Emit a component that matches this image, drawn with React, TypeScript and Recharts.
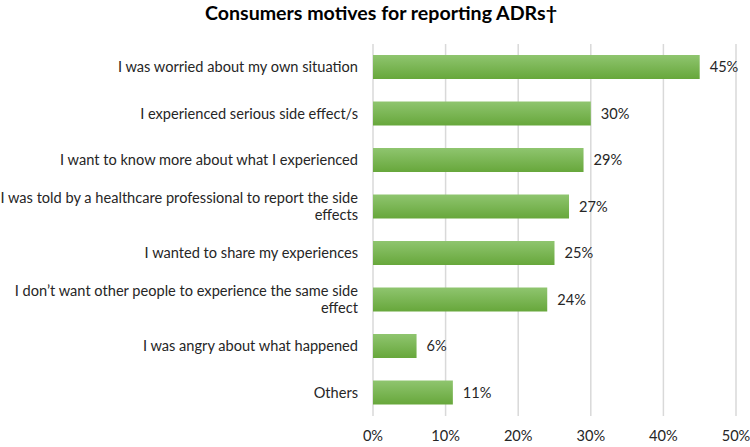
import React from 'react';
import { BarChart, Bar, XAxis, YAxis, CartesianGrid, LabelList } from 'recharts';

const motives = [
  'I was worried about my own situation',
  'I experienced serious side effect/s',
  'I want to know more about what I experienced',
  'I was told by a healthcare professional to report the side effects',
  'I wanted to share my experiences',
  'I don\u2019t want other people to experience the same side effect',
  'I was angry about what happened',
  'Others',
];
const shares = [45, 30, 29, 27, 25, 24, 6, 11];
const xTicks = [0, 10, 20, 30, 40, 50];

const data = motives.map((motive, i) => ({ motive, share: shares[i] }));

const FONT = 'Lato, "DejaVu Sans", sans-serif';
const TEXT = '#262626';

// crude wrap by character count, good enough for these labels
const wrap = (text: string, max = 58) => {
  const lines: string[] = [];
  let cur = '';
  text.split(' ').forEach(w => {
    const next = cur ? cur + ' ' + w : w;
    if (next.length > max && cur) {
      lines.push(cur);
      cur = w;
    } else {
      cur = next;
    }
  });
  if (cur) lines.push(cur);
  return lines;
};

const MotiveTick = ({ x, y, payload }: any) => {
  const lines = wrap(payload.value);
  const lh = 17;
  const start = -((lines.length - 1) * lh) / 2;
  return (
    <text x={x} y={y} textAnchor="end" fill={TEXT} fontSize={14.6} fontFamily={FONT}>
      {lines.map((l, i) => (
        <tspan key={i} x={x} y={y + start + i * lh} dy="0.35em">{l}</tspan>
      ))}
    </text>
  );
};

export default function App() {
  return (
    <div style={{ position: 'absolute', left: 0, top: 0, width: 750, height: 447, background: '#fff' }}>
      <div
        style={{
          position: 'absolute', left: 6, width: 750, top: 1, textAlign: 'center',
          fontFamily: FONT, fontWeight: 700, fontSize: 19.6, color: '#000',
        }}
      >
        Consumers motives for reporting ADRs†
      </div>
      <BarChart
        width={750}
        height={447}
        data={data}
        layout="vertical"
        margin={{ top: 44, right: 14, bottom: 1, left: 0 }}
      >
        <defs>
          <linearGradient id="barGreen" x1="0" y1="0" x2="0" y2="1">
            <stop offset="0%" stopColor="#8fc56f" />
            <stop offset="100%" stopColor="#67a73b" />
          </linearGradient>
        </defs>
        <CartesianGrid horizontal={false} stroke="#d9d9d9" strokeWidth={1.5} />
        <XAxis
          type="number"
          domain={[0, 50]}
          ticks={xTicks}
          tickFormatter={v => `${v}%`}
          axisLine={false}
          tickLine={false}
          tickMargin={9}
          height={30}
          interval={0}
          tick={{ fill: TEXT, fontSize: 14.6, fontFamily: FONT }}
        />
        <YAxis
          type="category"
          dataKey="motive"
          width={373}
          axisLine={false}
          tickLine={false}
          tickMargin={9}
          interval={0}
          tick={<MotiveTick />}
        />
        <Bar dataKey="share" fill="url(#barGreen)" barSize={24} isAnimationActive={false}>
          <LabelList
            dataKey="share"
            position="right"
            offset={10}
            formatter={(v: any) => `${v}%`}
            style={{ fill: TEXT, fontSize: 14.6, fontFamily: FONT }}
          />
        </Bar>
      </BarChart>
    </div>
  );
}
